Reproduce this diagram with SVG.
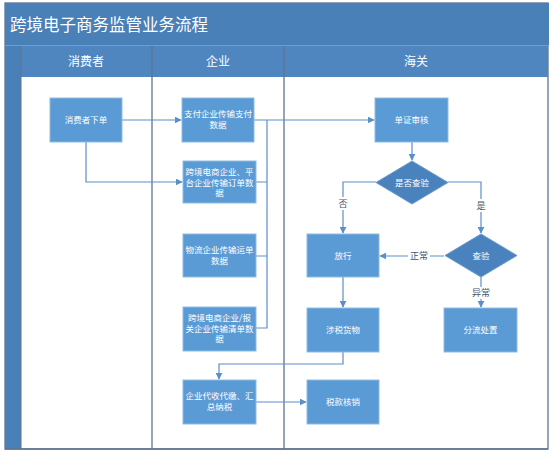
<svg xmlns="http://www.w3.org/2000/svg" width="554" height="456" viewBox="0 0 554 456">
<style>
.t{font-family:"Noto Sans CJK SC","Liberation Sans",sans-serif;fill:#fff}
.node rect{fill:#5b9bd5;stroke:#8fbbe4;stroke-width:1}
.node text{font-family:"Noto Sans CJK SC","Liberation Sans",sans-serif;fill:#fff;font-size:8.5px;text-anchor:middle}
.dia polygon{fill:#4a82bd;stroke:#6d9bd0;stroke-width:1}
.c{fill:none;stroke:#5b8fc9;stroke-width:1.2}
.lbl{font-family:"Noto Sans CJK SC","Liberation Sans",sans-serif;fill:#44546a;font-size:9px;text-anchor:middle}
.lane{stroke:#5f7391;stroke-width:1.3}
</style>
<defs>
<marker id="ah" viewBox="0 0 10 10" refX="9" refY="5" markerWidth="7" markerHeight="7" markerUnits="userSpaceOnUse" orient="auto">
<path d="M0,0 L10,5 L0,10 z" fill="#5b8fc9"/>
</marker>
</defs>
<g id="frame">
<rect x="0" y="0" width="554" height="456" fill="#fff"/>
<rect x="5" y="3" width="543" height="446" fill="#fff" stroke="#5f7391" stroke-width="1.3"/>
<rect x="5" y="3" width="544" height="42" fill="#4a80b8"/>
<line x1="5" y1="45.5" x2="549" y2="45.5" stroke="#6f9ccc" stroke-width="1"/>
<rect x="5" y="46" width="16" height="403" fill="#4a80b8"/>
<rect x="21" y="46" width="527" height="31" fill="#4f86c0"/>
<line class="lane" x1="152" y1="46" x2="152" y2="449"/>
<line class="lane" x1="284" y1="46" x2="284" y2="449"/>
<line x1="21" y1="46" x2="21" y2="449" stroke="#5f7391" stroke-width="1"/>
<line class="lane" x1="5" y1="449" x2="548" y2="449"/>
<text class="t" x="10" y="31" font-size="16.5">跨境电子商务监管业务流程</text>
<text class="t" x="86" y="66" font-size="12" text-anchor="middle">消费者</text>
<text class="t" x="218" y="66" font-size="12" text-anchor="middle">企业</text>
<text class="t" x="416" y="66" font-size="12" text-anchor="middle">海关</text>
</g>
<g id="connectors">
<path class="c" d="M122,120 H181" marker-end="url(#ah)"/>
<path class="c" d="M86,142 V182 H182" marker-end="url(#ah)"/>
<path class="c" d="M254,120 H374" marker-end="url(#ah)"/>
<path class="c" d="M256,182 H267 M256,256 H267 M256,328 H267 V120"/>
<path class="c" d="M412,142 V160" marker-end="url(#ah)"/>
<path class="c" d="M376,182 H343 V233" marker-end="url(#ah)"/>
<path class="c" d="M448,182 H481 V233" marker-end="url(#ah)"/>
<path class="c" d="M444,256 H380" marker-end="url(#ah)"/>
<path class="c" d="M481,277 V307" marker-end="url(#ah)"/>
<path class="c" d="M343,277 V307" marker-end="url(#ah)"/>
<path class="c" d="M343,352 V364 H219 V379" marker-end="url(#ah)"/>
<path class="c" d="M256,402 H306" marker-end="url(#ah)"/>
</g>
<g id="edge-labels">
<rect x="337" y="197" width="12" height="13" fill="#fff"/>
<text class="lbl" x="343" y="207">否</text>
<rect x="475" y="199" width="12" height="13" fill="#fff"/>
<text class="lbl" x="481" y="209">是</text>
<rect x="408" y="250" width="22" height="12" fill="#fff"/>
<text class="lbl" x="419" y="259">正常</text>
<rect x="470" y="287" width="22" height="12" fill="#fff"/>
<text class="lbl" x="481" y="296">异常</text>
</g>
<g id="n-order" class="node"><rect x="50" y="98" width="72" height="44"/><text x="86" y="123">消费者下单</text></g>
<g id="n-pay" class="node"><rect x="182" y="98" width="72" height="44"/><text x="218" y="117">支付企业传输支付</text><text x="218" y="128">数据</text></g>
<g id="n-orderdata" class="node"><rect x="183" y="161" width="73" height="42"/><text x="219.5" y="175">跨境电商企业、平</text><text x="219.5" y="185.5">台企业传输订单数</text><text x="219.5" y="196">据</text></g>
<g id="n-waybill" class="node"><rect x="183" y="234" width="73" height="43"/><text x="219.5" y="253">物流企业传输运单</text><text x="219.5" y="264">数据</text></g>
<g id="n-list" class="node"><rect x="183" y="307" width="73" height="44"/><text x="219.5" y="321">跨境电商企业/报</text><text x="219.5" y="331.5">关企业传输清单数</text><text x="219.5" y="342">据</text></g>
<g id="n-tax" class="node"><rect x="183" y="380" width="73" height="44"/><text x="219.5" y="399">企业代收代缴、汇</text><text x="219.5" y="410">总纳税</text></g>
<g id="n-review" class="node"><rect x="375" y="98" width="73" height="44"/><text x="411.5" y="123">单证审核</text></g>
<g id="n-check-q" class="node dia"><polygon points="412,161 448,182.5 412,204 376,182.5"/><text x="412" y="185.5">是否查验</text></g>
<g id="n-release" class="node"><rect x="307" y="234" width="72" height="43"/><text x="343" y="258.5">放行</text></g>
<g id="n-check" class="node dia"><polygon points="481,234 517,255.5 481,277 445,255.5"/><text x="481" y="258.5">查验</text></g>
<g id="n-taxgoods" class="node"><rect x="307" y="308" width="72" height="44"/><text x="343" y="333">涉税货物</text></g>
<g id="n-divert" class="node"><rect x="444" y="308" width="73" height="44"/><text x="480.5" y="333">分流处置</text></g>
<g id="n-writeoff" class="node"><rect x="307" y="380" width="72" height="44"/><text x="343" y="405">税款核销</text></g>
</svg>
